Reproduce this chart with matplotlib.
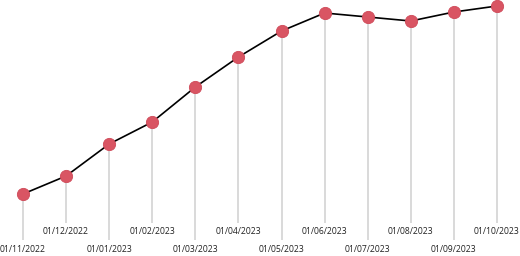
import matplotlib.pyplot as plt

dates = ["01/11/2022", "01/12/2022", "01/01/2023", "01/02/2023", "01/03/2023",
         "01/04/2023", "01/05/2023", "01/06/2023", "01/07/2023", "01/08/2023",
         "01/09/2023", "01/10/2023"]
values = [62, 80, 112, 134, 169, 199, 225, 243, 239, 235, 244, 250]

plt.rcParams["font.family"] = ["Open Sans", "DejaVu Sans"]

fig = plt.figure(figsize=(5.2, 2.56), dpi=100)
ax = fig.add_axes([0, 0, 1, 1])
ax.set_xlim(-0.534, 11.534)
ax.set_ylim(0, 256)
ax.axis("off")

xs = list(range(len(values)))
for i, (x, v, d) in enumerate(zip(xs, values, dates)):
    low = i % 2 == 0
    bottom = 16 if low else 33
    ax.plot([x, x], [bottom, v], color="#d9d9d9", lw=1.4, zorder=1,
            solid_capstyle="butt")
    ax.text(x, 6 if low else 24, d, ha="center", va="center",
            fontsize=6.2, color="#222222")

ax.plot(xs, values, color="black", lw=1.2, zorder=2)
ax.scatter(xs, values, s=78, color="#d95563", edgecolors="#cf4a59",
           linewidths=0.6, zorder=3)

fig.savefig("out.png", dpi=100)
